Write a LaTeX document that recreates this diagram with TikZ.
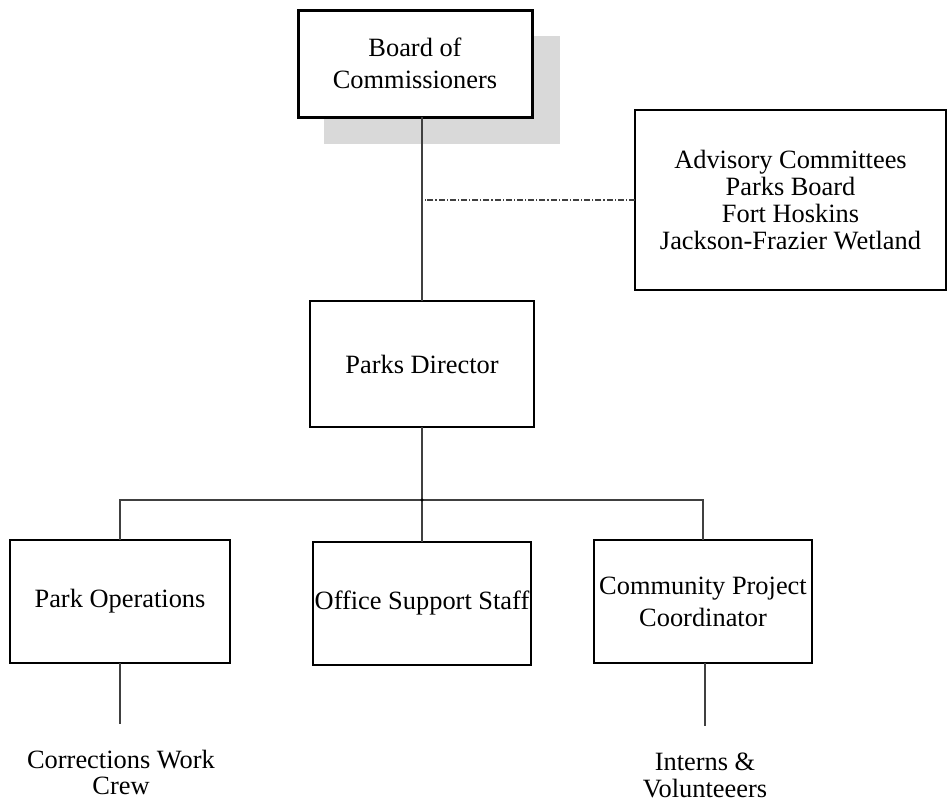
\documentclass[tikz,border=0pt]{standalone}
\usepackage{fontspec}
\setmainfont{Liberation Serif}
\usetikzlibrary{positioning}

\begin{document}
\begin{tikzpicture}[x=0.5pt,y=-0.5pt,
  unit/.style={draw,line width=1.1pt,align=center,inner sep=0pt,outer sep=0pt,
    font=\fontsize{13.2}{16}\selectfont},
  link/.style={draw=black!75,line width=0.55pt},
  plain/.style={align=center,font=\fontsize{13.2}{13.4}\selectfont}]
\useasboundingbox (0,0) rectangle (947,803);

% shadow behind the board
\fill[black!15] (324,36) rectangle (560,144);

\node[unit,fill=white,line width=1.5pt,minimum width=117pt,minimum height=53.5pt] (board) at (415,63.5) {Board of\\Commissioners};
\node[unit,font=\fontsize{13.2}{13.4}\selectfont,minimum width=155.5pt,minimum height=90pt] (adv) at (790.5,200)
  {Advisory Committees\\Parks Board\\Fort Hoskins\\Jackson-Frazier Wetland};
\node[unit,minimum width=112pt,minimum height=63pt] (dir) at (422,364) {Parks Director};

\node[unit,minimum width=110pt,minimum height=61.5pt] (ops) at (120,601.5) {Park Operations};
\node[unit,minimum width=109pt,minimum height=61.5pt] (office) at (422,603.5) {Office Support Staff};
\node[unit,minimum width=109pt,minimum height=61.5pt] (coord) at (703,601.5) {Community Project\\Coordinator};

\node[plain] (crew) at (121,772.5) {Corrections Work\\Crew};
\node[plain] (vol) at (705,775.5) {Interns \&\\Volunteeers};

\coordinate (bus) at (422,500);
\coordinate (opsend) at ([yshift=-30.5pt]ops.south);
\coordinate (coordend) at ([yshift=-31.5pt,xshift=1pt]coord.south);

\draw[link] (dir.north) -- (dir.north |- board.south);
\draw[link,dash pattern=on 3pt off 1pt on 0.6pt off 1pt] (adv.west) -- ([xshift=1.5pt]adv.west -| dir.north);
\draw[link] (dir.south) -- (bus);
\draw[link] (ops.north) |- (bus) -| (coord.north);
\draw[link] (bus) -- (office.north);
\fill (bus) circle (0.8pt);
\draw[link] (ops.south) -- (opsend);
\draw[link] ([xshift=1pt]coord.south) -- (coordend);

\end{tikzpicture}
\end{document}
